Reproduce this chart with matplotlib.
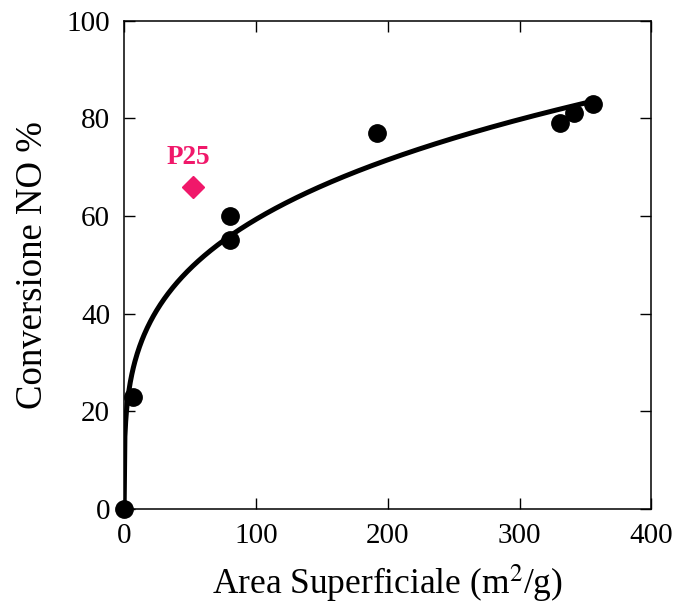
import numpy as np
import matplotlib
matplotlib.use("Agg")
import matplotlib.pyplot as plt

# Campioni: area superficiale (m2/g) e conversione NO (%)
area = [0, 7, 80, 80, 192, 331, 341, 356]
conversione = [0, 23, 60, 55, 77, 79, 81, 83]

# Riferimento P25
p25_area = [52]
p25_conv = [66]

# Curva di fit y = m1 * x^m2
m1, m2 = 17.1, 0.27
x_fit_max = 351

plt.rcParams['font.family'] = ['Liberation Serif', 'DejaVu Serif']
plt.rcParams['mathtext.fontset'] = 'stix'

fig = plt.figure(figsize=(6.82, 6.10), dpi=100)
ax = fig.add_axes([0.182, 0.166, 0.773, 0.800])

xf = np.linspace(0, x_fit_max, 600)
ax.plot(xf, m1 * xf ** m2, color='black', lw=3.6, solid_capstyle='round', zorder=2)
ax.plot(area, conversione, 'o', color='black', ms=12.5, zorder=3, clip_on=False)
ax.plot(p25_area, p25_conv, 'D', color='#F0186A', ms=11, zorder=3)
ax.text(p25_area[0] - 3.5, p25_conv[0] + 4.6, 'P25', color='#F0186A', fontsize=19.5,
        fontweight='bold', ha='center', va='baseline')

ax.set_xlim(0, 400)
ax.set_ylim(0, 100)
ax.set_xticks([0, 100, 200, 300, 400])
ax.set_yticks([0, 20, 40, 60, 80, 100])
ax.tick_params(direction='in', length=8, width=1, labelsize=21, top=True, right=True, pad=10)
for s in ax.spines.values():
    s.set_linewidth(1.1)

ax.set_xlabel('Area Superficiale (m$^2$/g)', fontsize=25.5, labelpad=10)
ax.set_ylabel('Conversione NO %', fontsize=26.5, labelpad=12)

fig.savefig('out.png', dpi=100)
